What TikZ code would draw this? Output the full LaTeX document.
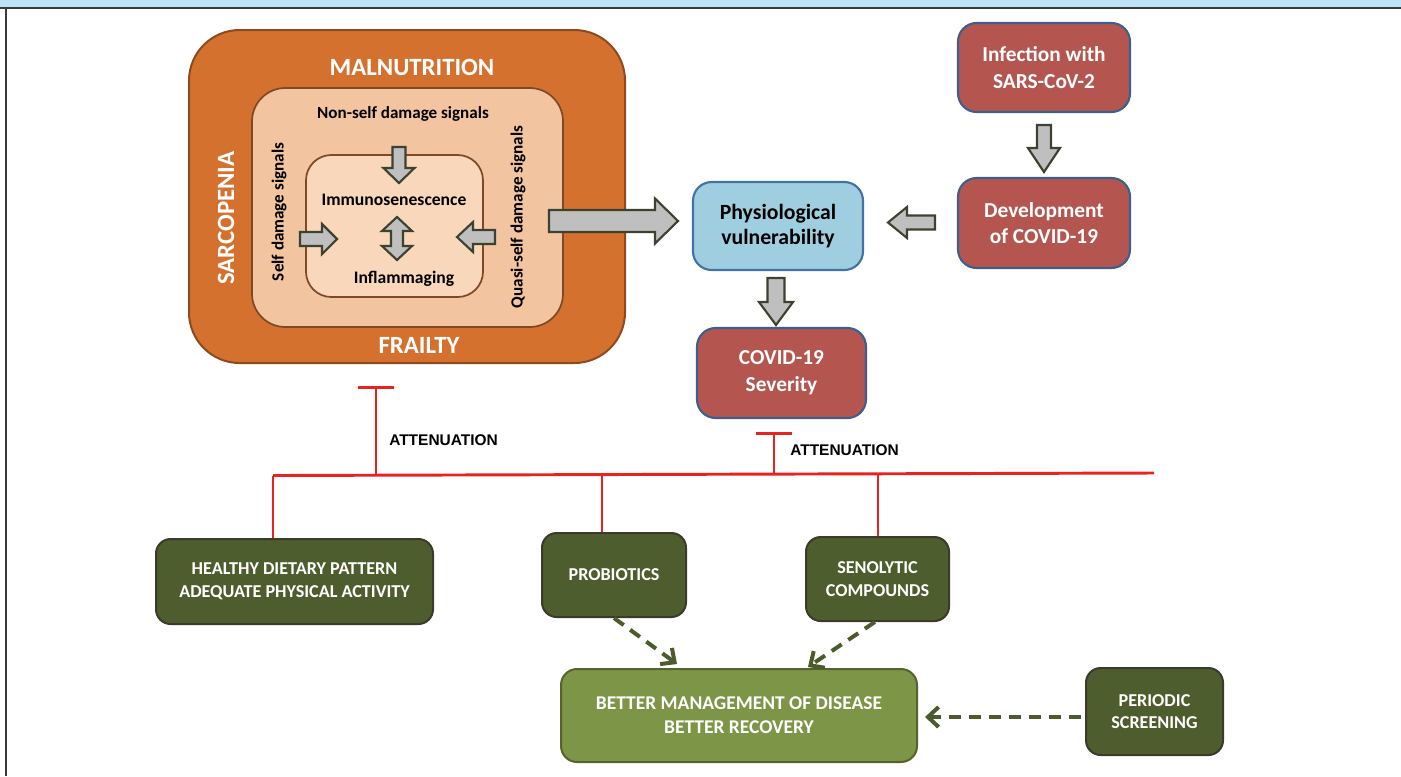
\documentclass[tikz,border=0pt]{standalone}
\usepackage{fontspec}
\setmainfont{Carlito}
\newfontfamily\arialf{Liberation Sans}
\usetikzlibrary{arrows.meta,calc}
\definecolor{topband}{HTML}{BDE4F6}
\definecolor{frameC}{HTML}{3A3A3A}
\definecolor{orangeF}{HTML}{D5712E}
\definecolor{orangeD}{HTML}{8E4A1E}
\definecolor{peachM}{HTML}{F3C4A0}
\definecolor{peachL}{HTML}{F8D7BB}
\definecolor{brownD}{HTML}{7D4A25}
\definecolor{redF}{HTML}{B4564F}
\definecolor{blueD}{HTML}{3D5F8E}
\definecolor{physF}{HTML}{9FCEE0}
\definecolor{physD}{HTML}{4272A6}
\definecolor{oliveD}{HTML}{4E5D2D}
\definecolor{oliveB}{HTML}{3C3A2A}
\definecolor{oliveL}{HTML}{7C9546}
\definecolor{oliveLB}{HTML}{56632F}
\definecolor{arrG}{HTML}{BFBFBF}
\definecolor{arrB}{HTML}{3D4230}
\definecolor{dashC}{HTML}{4B5B2B}
\definecolor{redL}{HTML}{E8231F}
\newcommand{\blockarrow}[6]{%
  \draw[blockarr,shift={#1},rotate=#2] (0,#4) -- ({#3-#6},#4) -- ({#3-#6},#5) -- (#3,0)
    -- ({#3-#6},-#5) -- ({#3-#6},-#4) -- (0,-#4) -- cycle;}
\newcommand{\dblarrow}[6]{%
  \draw[blockarr,shift={#1},rotate=#2] (0,0) -- (#6,#5) -- (#6,#4) -- ({#3-#6},#4) -- ({#3-#6},#5)
    -- (#3,0) -- ({#3-#6},-#5) -- ({#3-#6},-#4) -- (#6,-#4) -- (#6,-#5) -- cycle;}
\tikzset{
  blockarr/.style={fill=arrG,draw=arrB,line width=1.6pt,line join=miter},
  redbox/.style={draw=blueD,fill=redF,line width=1.6pt,rounded corners=14pt,text=white,
    align=center,font=\bfseries\fontsize{16}{20}\selectfont},
  physbox/.style={draw=physD,fill=physF,line width=1.6pt,rounded corners=14pt,text=black,
    align=center,font=\bfseries\fontsize{16.3}{19}\selectfont},
  darkbox/.style={draw=oliveB,fill=oliveD,line width=1.5pt,rounded corners=11pt,text=white,
    align=center,font=\bfseries\fontsize{13.6}{17}\selectfont},
  lightbox/.style={draw=oliveLB,fill=oliveL,line width=1.5pt,rounded corners=12pt,text=white,
    align=center,font=\bfseries\fontsize{14.6}{18}\selectfont},
  biglabel/.style={text=white,font=\bfseries\fontsize{18.6}{22}\selectfont,inner sep=0pt},
  inlabel/.style={text=black,font=\bfseries\fontsize{12.8}{15}\selectfont,inner sep=0pt},
  corelabel/.style={text=black,font=\bfseries\fontsize{13.2}{16}\selectfont,inner sep=0pt},
  inhib/.style={draw=redL,line width=2.2pt},
  attlabel/.style={font=\arialf\bfseries\fontsize{11.6}{14}\selectfont,text=black,inner sep=0pt},
  dasharr/.style={draw=dashC,line width=3pt,dash pattern=on 9pt off 6pt,
    -{Straight Barb[length=8pt,width=15pt,line width=3pt]}},
}
\begin{document}
\begin{tikzpicture}[x=0.75pt,y=-0.75pt]
\useasboundingbox (0,0) rectangle (1401,776);
% frame
\fill[topband] (0,0) rectangle (1401,7);
\coordinate (fTL) at (0,7.5);
\coordinate (fTR) at (1401,7.5);
\coordinate (fL1) at (5.5,7.5);
\coordinate (fL2) at (5.5,776);
\draw[frameC,line width=1.5pt] (fTL) -- (fTR);
\draw[frameC,line width=1.5pt] (fL1) -- (fL2);

% nested frailty boxes
\node[draw=orangeD,fill=orangeF,line width=1.5pt,rounded corners=38pt,
  minimum width=327pt,minimum height=249.75pt] (outer) at (407,196.5) {};
\node[draw=brownD,fill=peachM,line width=1.3pt,rounded corners=25pt,
  minimum width=233.25pt,minimum height=179.25pt] (middle) at (407.5,207.5) {};
\node[draw=brownD,fill=peachL,line width=1.3pt,rounded corners=19pt,
  minimum width=132.75pt,minimum height=106.5pt] (inner) at (394.5,226) {};

\node[biglabel] (maln) at (412,67) {MALNUTRITION};
\node[biglabel] (frail) at (419,345) {FRAILTY};
\node[biglabel,rotate=90] (sarc) at (226,218) {SARCOPENIA};

\node[inlabel] (nonself) at (403,114) {Non-self damage signals};
\node[inlabel,rotate=90] (self) at (279,212) {Self damage signals};
\node[inlabel,rotate=90] (quasi) at (518,217) {Quasi-self damage signals};
\node[corelabel] (immu) at (394,200) {Immunosenescence};
\node[corelabel] (infl) at (404,279) {Inflammaging};

% inner block arrows
\blockarrow{(399,147)}{-90}{36}{6.5}{15.5}{15}
\blockarrow{(300,239)}{0}{37}{7}{15}{15}
\blockarrow{(495,237)}{180}{38}{7}{15}{16}
\dblarrow{(397,217)}{-90}{43}{6}{15}{14}

% right column nodes
\node[physbox,minimum width=127.5pt,minimum height=66pt] (phys) at (778,226)
  {Physiological\\vulnerability};
\node[redbox,minimum width=129pt,minimum height=66.75pt] (inf) at (1044,67.5)
  {Infection with\\SARS-CoV-2};
\node[redbox,minimum width=129pt,minimum height=67.5pt] (dev) at (1044,223)
  {Development\\of COVID-19};
\node[redbox,minimum width=126.75pt,minimum height=67.5pt] (sev) at (781.5,373)
  {COVID-19\\Severity};

% big block arrows
\blockarrow{(549,221)}{0}{129}{11}{22.5}{23}
\blockarrow{(935,222.5)}{180}{47}{7}{15.5}{19}
\blockarrow{(1044,125)}{-90}{47}{7}{16}{24}
\blockarrow{(776,278)}{-90}{47}{8.5}{17}{23}

% bottom boxes
\node[darkbox,minimum width=207.75pt,minimum height=63.75pt] (healthy) at (294.5,581.5)
  {HEALTHY DIETARY PATTERN\\ADEQUATE PHYSICAL ACTIVITY};
\node[darkbox,minimum width=108pt,minimum height=63pt] (prob) at (614,575) {PROBIOTICS};
\node[darkbox,minimum width=107.25pt,minimum height=63pt] (sen) at (877.5,579)
  {SENOLYTIC\\COMPOUNDS};
\node[lightbox,minimum width=267pt,minimum height=69.75pt] (better) at (739,715.5)
  {BETTER MANAGEMENT OF DISEASE\\BETTER RECOVERY};
\node[darkbox,minimum width=102.75pt,minimum height=65.25pt] (per) at (1154.5,711.5)
  {PERIODIC\\SCREENING};

% attenuation network
\coordinate (busL) at (273,475.5);
\coordinate (busR) at (1154,473);
\coordinate (j1) at (376,475);
\coordinate (t1) at (376,386);
\coordinate (j2) at (774,473.5);
\coordinate (t2) at (774,432);
\coordinate (dP) at (602,474.5);
\coordinate (dS) at (878,474);
\draw[inhib] (busL) -- (busR);
\draw[inhib,-{Bar[width=27pt,line width=2.2pt]}] (j1) -- (t1);
\draw[inhib,-{Bar[width=27pt,line width=2.2pt]}] (j2) -- (t2);
\draw[inhib] (busL) -- (busL |- healthy.north);
\draw[inhib] (dP) -- (dP |- prob.north);
\draw[inhib] (dS) -- (dS |- sen.north);
\node[attlabel,anchor=west] (att1) at (389,440) {ATTENUATION};
\node[attlabel,anchor=west] (att2) at (790,450) {ATTENUATION};

% dashed arrows
\coordinate (e1) at (677,664);
\coordinate (e2) at (808,667);
\coordinate (s3) at (1081,717);
\coordinate (e3) at (925,717);
\draw[dasharr] (prob.south) -- (e1);
\draw[dasharr] ([xshift=-2pt]sen.south) -- (e2);
\draw[dasharr] (s3) -- (e3);
\end{tikzpicture}
\end{document}
